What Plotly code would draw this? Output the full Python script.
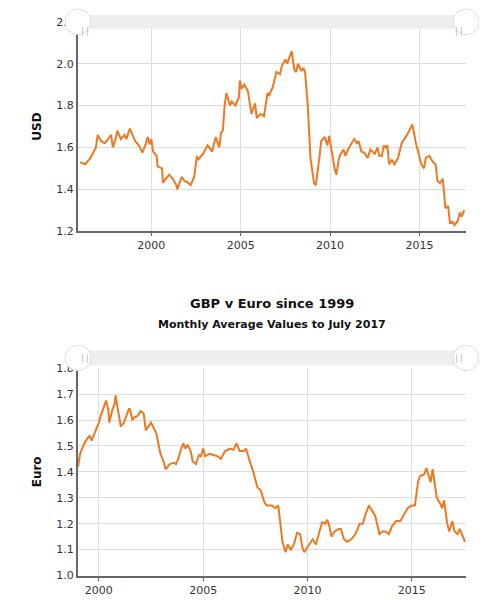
import plotly.graph_objects as go

# GBP v USD (decimal year, value)
usd_t = [1996.0, 1996.3, 1996.6, 1996.9, 1997.0, 1997.2, 1997.4, 1997.6, 1997.75, 1997.85, 1998.0, 1998.1, 1998.3, 1998.5, 1998.6, 1998.8, 1998.95,
         1999.1, 1999.3, 1999.5, 1999.7, 1999.8, 1999.9, 2000.0, 2000.1, 2000.3, 2000.35, 2000.6, 2000.65, 2000.8, 2001.0, 2001.2, 2001.4, 2001.45,
         2001.7, 2001.85, 2002.0, 2002.2, 2002.4, 2002.55, 2002.6, 2002.9, 2003.15, 2003.4, 2003.6, 2003.8, 2003.9, 2004.0, 2004.1, 2004.2, 2004.4,
         2004.5, 2004.7, 2004.9, 2004.95, 2005.05, 2005.2, 2005.4, 2005.6, 2005.8, 2005.9, 2006.1, 2006.3, 2006.5, 2006.6, 2006.8, 2007.0, 2007.2,
         2007.3, 2007.5, 2007.6, 2007.85, 2008.0, 2008.1, 2008.2, 2008.4, 2008.5, 2008.6, 2008.75, 2008.9, 2009.1, 2009.2, 2009.4, 2009.5, 2009.7,
         2009.85, 2009.95, 2010.1, 2010.25, 2010.35, 2010.5, 2010.6, 2010.75, 2010.85, 2011.0, 2011.2, 2011.35, 2011.5, 2011.6, 2011.75, 2011.9,
         2012.1, 2012.25, 2012.5, 2012.65, 2012.75, 2012.9, 2013.0, 2013.1, 2013.2, 2013.3, 2013.45, 2013.6, 2013.8, 2014.0, 2014.3, 2014.55, 2014.6,
         2014.8, 2014.95, 2015.1, 2015.25, 2015.35, 2015.55, 2015.75, 2015.9, 2016.0, 2016.15, 2016.3, 2016.45, 2016.6, 2016.7, 2016.85, 2016.95,
         2017.15, 2017.25, 2017.35, 2017.5]
usd_v = [1.53, 1.52, 1.55, 1.60, 1.66, 1.63, 1.62, 1.64, 1.66, 1.60, 1.64, 1.68, 1.64, 1.66, 1.64, 1.69, 1.66,
         1.63, 1.61, 1.575, 1.62, 1.65, 1.615, 1.64, 1.58, 1.56, 1.51, 1.50, 1.43, 1.45, 1.47, 1.45, 1.42, 1.40,
         1.46, 1.44, 1.435, 1.42, 1.46, 1.56, 1.54, 1.57, 1.61, 1.58, 1.65, 1.60, 1.67, 1.68, 1.80, 1.86, 1.80,
         1.82, 1.80, 1.84, 1.92, 1.88, 1.90, 1.87, 1.76, 1.81, 1.74, 1.76, 1.75, 1.86, 1.85, 1.89, 1.96, 1.95,
         1.99, 2.02, 2.00, 2.06, 1.97, 1.96, 2.00, 1.965, 1.98, 1.96, 1.80, 1.55, 1.43, 1.42, 1.55, 1.63, 1.65,
         1.61, 1.655, 1.57, 1.50, 1.47, 1.55, 1.57, 1.59, 1.56, 1.59, 1.62, 1.64, 1.62, 1.63, 1.58, 1.575,
         1.55, 1.59, 1.57, 1.60, 1.56, 1.56, 1.61, 1.60, 1.61, 1.52, 1.54, 1.52, 1.55, 1.62, 1.66, 1.70, 1.71,
         1.62, 1.57, 1.52, 1.50, 1.55, 1.56, 1.53, 1.52, 1.44, 1.43, 1.45, 1.31, 1.32, 1.24, 1.245, 1.23,
         1.25, 1.29, 1.27, 1.30]

# GBP v Euro
eur_t = [1999.0, 1999.1, 1999.3, 1999.55, 1999.65, 1999.8, 2000.0, 2000.1, 2000.3, 2000.35, 2000.45, 2000.5, 2000.65, 2000.75, 2000.8, 2000.9,
         2001.05, 2001.2, 2001.45, 2001.5, 2001.6, 2001.7, 2001.85, 2002.0, 2002.15, 2002.25, 2002.5, 2002.75, 2002.95, 2003.1, 2003.2, 2003.4,
         2003.6, 2003.7, 2003.8, 2003.95, 2004.05, 2004.15, 2004.25, 2004.4, 2004.5, 2004.65, 2004.8, 2004.9, 2005.0, 2005.1, 2005.3, 2005.5,
         2005.7, 2005.85, 2006.05, 2006.3, 2006.45, 2006.6, 2006.75, 2006.95, 2007.05, 2007.2, 2007.4, 2007.6, 2007.75, 2007.95, 2008.05, 2008.3,
         2008.45, 2008.6, 2008.7, 2008.8, 2008.95, 2009.05, 2009.2, 2009.35, 2009.5, 2009.65, 2009.75, 2009.85, 2010.0, 2010.15, 2010.25, 2010.4,
         2010.5, 2010.7, 2010.85, 2010.95, 2011.05, 2011.15, 2011.3, 2011.5, 2011.6, 2011.75, 2011.9, 2012.1, 2012.3, 2012.5, 2012.65, 2012.8,
         2012.95, 2013.1, 2013.25, 2013.45, 2013.6, 2013.75, 2013.9, 2014.05, 2014.25, 2014.45, 2014.6, 2014.8, 2015.0, 2015.15, 2015.3, 2015.4,
         2015.6, 2015.7, 2015.9, 2016.0, 2016.2, 2016.35, 2016.45, 2016.55, 2016.7, 2016.8, 2016.95, 2017.05, 2017.2, 2017.3, 2017.45, 2017.55]
eur_v = [1.42, 1.47, 1.51, 1.54, 1.52, 1.55, 1.59, 1.62, 1.66, 1.675, 1.64, 1.59, 1.64, 1.66, 1.695, 1.65,
         1.575, 1.59, 1.645, 1.64, 1.60, 1.61, 1.615, 1.635, 1.625, 1.56, 1.59, 1.55, 1.47, 1.44, 1.41, 1.43,
         1.435, 1.43, 1.45, 1.49, 1.51, 1.49, 1.505, 1.48, 1.44, 1.43, 1.465, 1.46, 1.49, 1.46, 1.47, 1.465,
         1.46, 1.45, 1.48, 1.49, 1.485, 1.51, 1.48, 1.48, 1.49, 1.45, 1.40, 1.34, 1.33, 1.28, 1.27, 1.27,
         1.26, 1.27, 1.20, 1.13, 1.09, 1.12, 1.10, 1.12, 1.165, 1.16, 1.11, 1.09, 1.11, 1.13, 1.14, 1.12,
         1.15, 1.205, 1.20, 1.215, 1.19, 1.15, 1.17, 1.18, 1.18, 1.14, 1.13, 1.14, 1.16, 1.20, 1.20, 1.24,
         1.27, 1.25, 1.23, 1.16, 1.17, 1.17, 1.16, 1.19, 1.21, 1.21, 1.23, 1.26, 1.27, 1.27, 1.36, 1.385,
         1.39, 1.415, 1.36, 1.41, 1.30, 1.28, 1.26, 1.29, 1.20, 1.17, 1.21, 1.17, 1.16, 1.18, 1.15, 1.13]

year_ticks = [2000, 2005, 2010, 2015]
orange = "#f07820"
H = 600.0
W = 487.0

def py(px):
    return 1 - px / H

def pxx(px):
    return px / W

fig = go.Figure()
fig.add_trace(go.Scatter(x=usd_t, y=usd_v, mode="lines", line=dict(color=orange, width=2), xaxis="x", yaxis="y"))
fig.add_trace(go.Scatter(x=eur_t, y=eur_v, mode="lines", line=dict(color=orange, width=2), xaxis="x2", yaxis="y2"))

axfont = dict(family="DejaVu Sans", size=11, color="#333")
xcommon = dict(tickvals=year_ticks, showgrid=True, gridcolor="#ddd", showline=True, linecolor="#666", linewidth=2,
               ticks="outside", ticklen=3, tickcolor="#666", tickfont=axfont, zeroline=False)
ycommon = dict(showgrid=True, gridcolor="#ddd", showline=True, linecolor="#666", linewidth=2,
               tickfont=axfont, zeroline=False, tickformat=".1f")

fig.update_layout(
    width=487, height=600, margin=dict(l=0, r=0, t=0, b=0),
    plot_bgcolor="white", paper_bgcolor="white", showlegend=False,
    xaxis=dict(domain=[pxx(70), pxx(458)], range=[1995.9, 2017.6], anchor="y", **xcommon),
    yaxis=dict(domain=[py(222), py(8)], range=[1.2, 2.2], dtick=0.2, anchor="x",
               title=dict(text="<b>USD</b>", font=dict(family="DejaVu Sans", size=12, color="#111"), standoff=12), **ycommon),
    xaxis2=dict(domain=[pxx(70), pxx(458)], range=[1999.0, 2017.6], anchor="y2", **xcommon),
    yaxis2=dict(domain=[py(574), py(362)], range=[1.0, 1.8], dtick=0.1, anchor="x2",
                title=dict(text="<b>Euro</b>", font=dict(family="DejaVu Sans", size=12, color="#111"), standoff=12), **ycommon),
)

fig.add_annotation(text="<b>GBP v Euro since 1999</b>", x=pxx(264), y=py(296), xref="paper", yref="paper",
                   showarrow=False, font=dict(family="DejaVu Sans", size=13, color="#111"))
fig.add_annotation(text="<b>Monthly Average Values to July 2017</b>", x=pxx(264), y=py(317), xref="paper", yref="paper",
                   showarrow=False, font=dict(family="DejaVu Sans", size=11, color="#111"))

# scrollbar-like bars with round handles
for top, bot in [(1, 15), (344, 359)]:
    fig.add_shape(type="rect", xref="paper", yref="paper", x0=pxx(72), x1=pxx(465), y0=py(bot), y1=py(top),
                  fillcolor="#eeeeee", line=dict(width=0), layer="above")
    for cx in [70, 458]:
        cy = (top + bot) / 2
        fig.add_shape(type="circle", xref="paper", yref="paper", x0=pxx(cx - 13), x1=pxx(cx + 13),
                      y0=py(cy + 13), y1=py(cy - 13), fillcolor="white", line=dict(color="#ddd", width=1), layer="above")
        fig.add_annotation(text="||", x=pxx(cx), y=py(cy), xref="paper", yref="paper", showarrow=False,
                           font=dict(size=9, color="#aaa"))

fig.write_html("out.html")
